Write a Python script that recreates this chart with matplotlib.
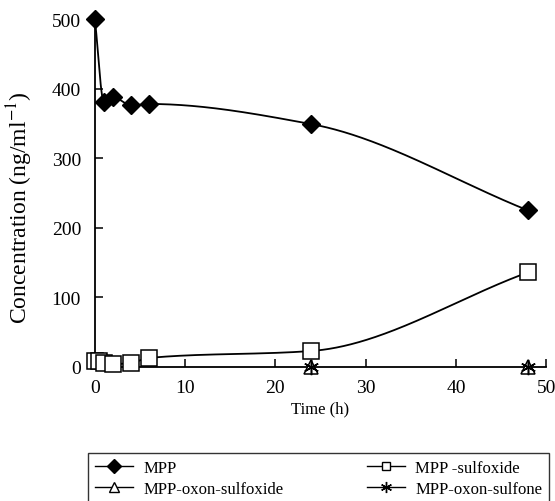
import numpy as np
import matplotlib
matplotlib.use("Agg")
import matplotlib.pyplot as plt
from matplotlib.lines import Line2D

plt.rcParams['font.family'] = ['Liberation Serif', 'DejaVu Serif']
plt.rcParams['mathtext.fontset'] = 'stix'

# data
t_mpp = [0, 1, 2, 4, 6, 24, 48]
mpp = [500, 381, 388, 376, 378, 349, 225]
t_sox = [0, 0.5, 1, 2, 4, 6, 24, 48]
sox = [8, 9, 6, 4, 6, 13, 23, 136]
t_oxso = [24, 48]
oxso = [0, 0]
t_oxsf = [24, 48]
oxsf = [0, 0]
xticks = [0, 10, 20, 30, 40, 50]
yticks = [0, 100, 200, 300, 400, 500]
labels = ['MPP', 'MPP -sulfoxide', 'MPP-oxon-sulfoxide', 'MPP-oxon-sulfone']


def pchip(x, y, xs):
    x = np.asarray(x, float); y = np.asarray(y, float)
    h = np.diff(x); d = np.diff(y) / h
    n = len(x); m = np.zeros(n)
    for k in range(1, n - 1):
        if d[k - 1] * d[k] <= 0:
            m[k] = 0
        else:
            w1 = 2 * h[k] + h[k - 1]; w2 = h[k] + 2 * h[k - 1]
            m[k] = (w1 + w2) / (w1 / d[k - 1] + w2 / d[k])
    m[0] = d[0]; m[-1] = d[-1]
    out = np.empty_like(xs)
    for i, xv in enumerate(xs):
        k = min(max(np.searchsorted(x, xv) - 1, 0), n - 2)
        t = (xv - x[k]) / h[k]
        h00 = 2*t**3 - 3*t**2 + 1; h10 = t**3 - 2*t**2 + t
        h01 = -2*t**3 + 3*t**2; h11 = t**3 - t**2
        out[i] = h00*y[k] + h10*h[k]*m[k] + h01*y[k+1] + h11*h[k]*m[k+1]
    return out


fig = plt.figure(figsize=(5.55, 5.02), dpi=100)
ax = fig.add_axes([0.171, 0.267, 0.813, 0.693])

xs = np.linspace(0, 48, 600)
ax.plot(xs, pchip(t_mpp, mpp, xs), color='black', lw=1.3, clip_on=False)
ax.plot(t_mpp, mpp, ls='none', marker='D', ms=9, color='black', clip_on=False, zorder=5)
ax.plot(xs, pchip(t_sox, sox, xs), color='black', lw=1.3, clip_on=False)
ax.plot(t_sox, sox, ls='none', marker='s', ms=12, mfc='white', mec='black', mew=1.1, clip_on=False, zorder=5)
ax.plot(t_oxso, oxso, ls='none', marker='^', ms=10, mfc='white', mec='black', mew=1.1, clip_on=False, zorder=6)
ax.plot(t_oxsf, oxsf, ls='none', marker=(6, 2, 0), ms=11, color='black', mew=1.1, clip_on=False, zorder=7)

ax.set_xlim(0, 50)
ax.set_ylim(0, 500)
ax.set_xticks(xticks)
ax.set_yticks(yticks)
ax.spines['top'].set_visible(False)
ax.spines['right'].set_visible(False)
ax.spines['left'].set_linewidth(1.3)
ax.spines['bottom'].set_linewidth(1.3)
ax.tick_params(direction='in', length=6, width=1.1, labelsize=14)
ax.tick_params(axis='y', pad=10)
ax.tick_params(axis='x', pad=9)
ax.set_xlabel('Time (h)', fontsize=12, labelpad=3)
fig.text(20 / 555, 1 - 208 / 502, 'Concentration (ng/ml$^{-1}$)', fontsize=17,
         rotation=90, ha='center', va='center')

h1 = Line2D([], [], color='black', marker='D', ms=7, lw=1)
h2 = Line2D([], [], color='black', marker='s', ms=6, mfc='white', lw=1)
h3 = Line2D([], [], color='black', marker='^', ms=7, mfc='white', lw=1)
h4 = Line2D([], [], color='black', marker=(6, 2, 0), ms=8, lw=1)
fig.legend([h1, h3, h2, h4], [labels[0], labels[2], labels[1], labels[3]],
           ncol=2, loc='lower left', bbox_to_anchor=(0.159, -0.005, 0.83, 0.103), mode='expand',
           frameon=True, fancybox=False, edgecolor='black', fontsize=12, handlelength=2.3,
           handletextpad=0.6, borderaxespad=0, labelspacing=0.3, columnspacing=1.0)

fig.savefig('out.png', dpi=100)
